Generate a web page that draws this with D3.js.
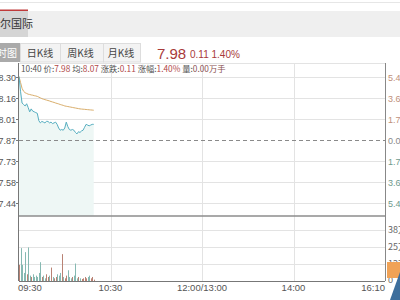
<!DOCTYPE html>
<html>
<head>
<meta charset="utf-8">
<script src="https://cdn.jsdelivr.net/npm/d3@7/dist/d3.min.js"></script>
<style>
  html, body { margin: 0; padding: 0; background: #fff; }
  svg { display: block; font-family: "Liberation Sans", "Noto Sans CJK SC", sans-serif; }
</style>
</head>
<body>
<div id="chart"></div>
<script>
// ***************数据*******************
const prevClose = 7.87;
// 每分钟价格 09:30 起
const prices = [8.30, 8.20, 8.12, 8.11, 8.10, 8.115, 8.09, 8.06, 8.08, 8.065,
  8.06, 8.055, 8.05, 8.00, 7.985, 7.995, 7.99, 7.985, 7.995, 7.995,
  7.985, 7.99, 7.98, 7.985, 7.99, 7.975, 7.95, 7.935, 7.94, 7.935,
  7.95, 7.99, 7.96, 7.94, 7.935, 7.94, 7.935, 7.92, 7.91, 7.925,
  7.92, 7.93, 7.935, 7.955, 7.975, 7.97, 7.965, 7.97, 7.975, 7.975];
// 均价
const avgPrices = [8.30, 8.26, 8.22, 8.20, 8.19, 8.185, 8.18, 8.178, 8.175, 8.173,
  8.17, 8.168, 8.165, 8.16, 8.155, 8.15, 8.146, 8.143, 8.14, 8.137,
  8.134, 8.13, 8.127, 8.124, 8.12, 8.117, 8.114, 8.11, 8.107, 8.104,
  8.10, 8.098, 8.096, 8.094, 8.092, 8.09, 8.088, 8.086, 8.084, 8.082,
  8.08, 8.079, 8.078, 8.077, 8.076, 8.075, 8.074, 8.073, 8.072, 8.071];
// 成交量 (万)
const volumes = [12, 24.5, 12, 6, 21.5, 5, 25, 4, 3, 5,
  3, 4, 3, 6, 14, 3, 4, 2, 5, 3,
  4, 10, 3, 2, 3, 5, 4, 6, 20, 3,
  2, 4, 8, 3, 2, 3, 4, 13, 2, 3,
  2, 1.5, 2, 3, 2, 3, 4, 2, 3, 1];
const timeTicks = [0, 60, 120, 180, 240];
const timeLabels = ['09:30', '10:30', '12:00/13:00', '14:00', '16:10'];
const priceLabels = ['8.30', '8.16', '8.01', '7.87', '7.73', '7.58', '7.44'];
const pctLabels = ['5.40%', '3.60%', '1.70%', '0.00%', '1.70%', '3.60%', '5.40%'];
const volTicks = [12.7, 25.4, 38.1];
const volLabels = ['12万', '25万', '38万'];
const tabs = ['日K线', '周K线', '月K线'];

// ***************布局*******************
const width = 400;
const height = 300;
const padLeft = 19;
const padRight = 385;
const padTop = 63;
const mainBottom = 216;
const volBottom = 281;
const red = '#b04848';
const green = '#6f9a8c';

const svg = d3.select('#chart').append('svg')
  .attr('width', width)
  .attr('height', height);

// 顶部栏
svg.append('line').attr('x1', 0).attr('x2', width).attr('y1', 2.5).attr('y2', 2.5)
  .attr('stroke', '#e6e6e6');
svg.append('rect').attr('x', 0).attr('y', 11).attr('width', width).attr('height', 26).attr('fill', '#efefef');
svg.append('rect').attr('x', 0).attr('y', 11).attr('width', 28).attr('height', 26).attr('fill', '#d5d5d5');
svg.append('rect').attr('x', 0).attr('y', 9.5).attr('width', 28).attr('height', 1.5).attr('fill', '#c03a3a');
svg.append('text').attr('x', 0).attr('y', 28).attr('font-size', 11).attr('fill', '#333')
  .style('font-family', '"Noto Sans CJK SC"').text('尔国际');

// 标签页
svg.append('rect').attr('x', 0).attr('y', 43).attr('width', 20).attr('height', 19).attr('fill', '#aaaaaa');
svg.append('text').attr('x', 17).attr('y', 57).attr('font-size', 10).attr('fill', '#fff')
  .attr('text-anchor', 'end').style('font-family', '"Noto Sans CJK SC"').text('分时图');
const tabX = d3.scalePoint().domain(tabs).range([40, 121]);
const tabEdges = [20, 60, 103, 140];
tabEdges.slice(0, 3).forEach((x, i) => {
  svg.append('rect').attr('x', x + 0.5).attr('y', 43.5).attr('width', tabEdges[i + 1] - x).attr('height', 18.5)
    .attr('fill', '#f3f3f3').attr('stroke', '#dddddd');
});
svg.selectAll('.tab').data(tabs).enter().append('text')
  .attr('class', 'tab')
  .attr('x', (d) => tabX(d))
  .attr('y', 57)
  .attr('text-anchor', 'middle')
  .attr('font-size', 10)
  .attr('fill', '#444')
  .style('font-family', '"Noto Sans CJK SC"')
  .text((d) => d);
svg.append('text').attr('x', 157).attr('y', 59).attr('font-size', 15).attr('fill', '#a83a3a').text('7.98');
svg.append('text').attr('x', 190).attr('y', 58).attr('font-size', 10).attr('fill', '#a83a3a').text('0.11 1.40%');

// ***************比例尺*******************
const xScale = d3.scaleLinear().domain([0, 240]).range([padLeft, padRight]);
const yScale = d3.scaleLinear().domain([7.352, 8.392]).range([mainBottom, padTop]);
const step = (8.30 - 7.44) / 6;
const priceTicks = priceLabels.map((d, i) => 8.30 - i * step);
const vScale = d3.scaleLinear().domain([0, 48.4]).range([volBottom, mainBottom]);

// 网格
const grid = svg.append('g').attr('stroke', '#e3e3e3').attr('stroke-width', 1);
priceTicks.forEach((v, i) => {
  if (i === 3) return;
  grid.append('line').attr('x1', padLeft).attr('x2', padRight)
    .attr('y1', Math.round(yScale(v)) + 0.5).attr('y2', Math.round(yScale(v)) + 0.5);
});
volTicks.forEach((v) => {
  grid.append('line').attr('x1', padLeft).attr('x2', padRight)
    .attr('y1', Math.round(vScale(v)) + 0.5).attr('y2', Math.round(vScale(v)) + 0.5);
});
timeTicks.slice(1, 4).forEach((t) => {
  grid.append('line').attr('x1', Math.round(xScale(t)) + 0.5).attr('x2', Math.round(xScale(t)) + 0.5)
    .attr('y1', padTop).attr('y2', volBottom);
});
grid.append('line').attr('x1', padLeft).attr('x2', padRight).attr('y1', padTop + 0.5).attr('y2', padTop + 0.5);

// 面积
const areaPath = d3.area()
  .x((d, i) => xScale(i))
  .y0(mainBottom)
  .y1((d) => yScale(d));
svg.append('path').attr('d', areaPath(prices)).attr('fill', '#eef7f5');

// 昨收虚线
svg.append('line').attr('x1', padLeft).attr('x2', padRight)
  .attr('y1', Math.round(yScale(prevClose)) + 0.5).attr('y2', Math.round(yScale(prevClose)) + 0.5)
  .attr('stroke', '#8a8a8a').attr('stroke-dasharray', '4,3');

// 折线
const linePath = d3.line()
  .x((d, i) => xScale(i))
  .y((d) => yScale(d));
svg.append('path').attr('d', linePath(avgPrices)).attr('fill', 'none')
  .attr('stroke', '#d9ad6a').attr('stroke-width', 1);
svg.append('path').attr('d', linePath(prices)).attr('fill', 'none')
  .attr('stroke', '#56aec0').attr('stroke-width', 1);

// 成交量
svg.append('g').selectAll('line').data(volumes).enter().append('line')
  .attr('x1', (d, i) => Math.round(xScale(i)) + 0.5)
  .attr('x2', (d, i) => Math.round(xScale(i)) + 0.5)
  .attr('y1', vScale(0))
  .attr('y2', (d) => vScale(d))
  .attr('stroke', (d, i) => (i > 0 && prices[i] < prices[i - 1] ? '#86b9b2' : '#b98274'))
  .attr('stroke-width', 1);

// 边框
svg.append('line').attr('x1', padLeft - 0.5).attr('x2', padLeft - 0.5).attr('y1', padTop).attr('y2', volBottom).attr('stroke', '#777');
svg.append('line').attr('x1', padRight + 0.5).attr('x2', padRight + 0.5).attr('y1', padTop).attr('y2', volBottom).attr('stroke', '#888');
svg.append('line').attr('x1', padLeft).attr('x2', padRight).attr('y1', mainBottom).attr('y2', mainBottom)
  .attr('stroke', '#8c8c8c').attr('stroke-width', 1.5);
svg.append('line').attr('x1', padLeft).attr('x2', padRight).attr('y1', volBottom + 0.5).attr('y2', volBottom + 0.5).attr('stroke', '#777');

// 左轴标签
priceTicks.forEach((v, i) => {
  const y = Math.round(yScale(v)) + 0.5;
  svg.append('line').attr('x1', padLeft - 3).attr('x2', padLeft).attr('y1', y).attr('y2', y).attr('stroke', '#777');
  svg.append('text').attr('x', padLeft - 3).attr('y', y).attr('dy', '0.35em')
    .attr('text-anchor', 'end').attr('font-size', 9).attr('fill', '#555').text(priceLabels[i]);
  svg.append('text').attr('x', padRight + 3).attr('y', y).attr('dy', '0.35em')
    .attr('font-size', 9).attr('fill', i < 3 ? '#c0907a' : (i === 3 ? '#888' : green)).text(pctLabels[i]);
});
volTicks.forEach((v, i) => {
  svg.append('text').attr('x', padRight + 3).attr('y', Math.round(vScale(v))).attr('dy', '0.35em')
    .attr('font-size', 9).attr('fill', '#666').style('font-family', '"Noto Sans CJK SC"').text(volLabels[i]);
});
svg.append('text').attr('x', padRight + 3).attr('y', volBottom - 1).attr('dy', '0.35em')
  .attr('font-size', 9).attr('fill', '#666').text('0');

// 时间轴标签
svg.selectAll('.tlabel').data(timeTicks).enter().append('text')
  .attr('class', 'tlabel')
  .attr('x', (d, i) => (i === 0 ? padLeft - 1 : (i === 4 ? padRight : xScale(d))))
  .attr('y', 291)
  .attr('text-anchor', (d, i) => (i === 0 ? 'start' : (i === 4 ? 'end' : 'middle')))
  .attr('font-size', 9.5)
  .attr('fill', '#555')
  .text((d, i) => timeLabels[i]);

// 信息栏
const info = svg.append('text').attr('x', 21).attr('y', 72).attr('font-size', 8.3)
  .style('font-family', '"Noto Sans CJK SC", "Liberation Sans"');
const infoParts = [['10:40 价:', '#555'], ['7.98', red], [' 均:', '#555'], ['8.07', red],
  [' 涨跌:', '#555'], ['0.11', red], [' 涨幅:', '#555'], ['1.40%', red], [' 量:', '#555'], ['0.00万手', '#8a5050']];
infoParts.forEach((p) => info.append('tspan').attr('fill', p[1]).text(p[0]));

// 右下角浮标
svg.append('rect').attr('x', 387).attr('y', 262).attr('width', 13).attr('height', 16).attr('fill', '#f0a256');
svg.append('path').attr('d', 'M390,300 L400,272 L400,300 Z').attr('fill', '#3d6e9c');
</script>
</body>
</html>
